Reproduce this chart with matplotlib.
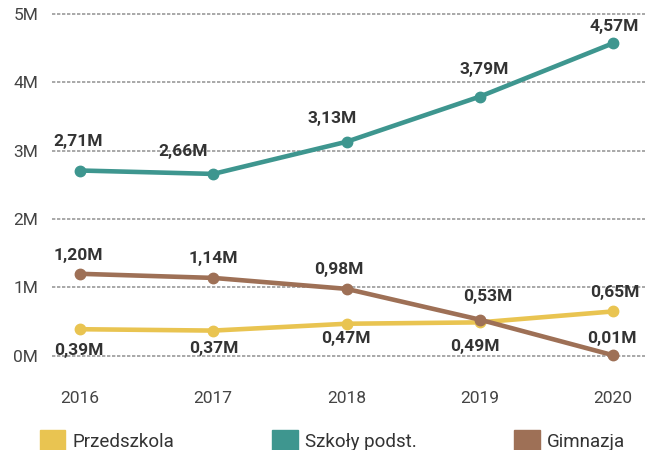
import matplotlib.pyplot as plt
import matplotlib.patches as mpatches

plt.rcParams['font.family'] = ['Roboto', 'DejaVu Sans']

years = [2016, 2017, 2018, 2019, 2020]
przedszkola = [0.39, 0.37, 0.47, 0.49, 0.65]
szkoly = [2.71, 2.66, 3.13, 3.79, 4.57]
gimnazja = [1.20, 1.14, 0.98, 0.53, 0.01]
y_ticks = [0, 1, 2, 3, 4, 5]

# label offsets in pixels (dx, dy), dy positive = down on screen
off_przed = [(-1, 21), (1, 18), (-1, 15), (-5, 24), (2, -19)]
off_szkoly = [(-2, -29), (-30, -22), (-14, -23), (4, -27), (1, -17)]
off_gimn = [(-2, -18), (0, -19), (-8, -19), (8, -23), (-1, -17)]

c_yellow = '#E9C451'
c_teal = '#3E968F'
c_brown = '#9E7056'

fig = plt.figure(figsize=(6.45, 4.5), dpi=100)
ax = fig.add_axes([52 / 645, 77 / 450, 593 / 645, 366 / 450])

series = [(przedszkola, c_yellow, off_przed),
          (gimnazja, c_brown, off_gimn),
          (szkoly, c_teal, off_szkoly)]
for vals, col, offs in series:
    ax.plot(years, vals, color=col, lw=3.3, marker='o', ms=7.5, zorder=3)
    for x, v, (dx, dy) in zip(years, vals, offs):
        ax.annotate(('%.2f' % v).replace('.', ',') + 'M', (x, v),
                    xytext=(dx, -dy), textcoords='offset pixels',
                    ha='center', va='center', fontsize=12.5,
                    fontweight='bold', color='#333333', zorder=4)

ax.set_xlim(2015.79, 2020.24)
ax.set_ylim(-0.25, 5.1)
ax.set_xticks(years)
ax.set_xticklabels([str(y) for y in years])
ax.set_yticks(y_ticks)
ax.set_yticklabels(['%dM' % t for t in y_ticks])
ax.tick_params(length=0, labelsize=12.5, labelcolor='#444444')
ax.tick_params(axis='x', pad=13)
ax.tick_params(axis='y', pad=10)
ax.grid(axis='y', color='#9a9a9a', lw=1.2, ls=(0, (2, 1)))
ax.set_axisbelow(True)
for s in ax.spines.values():
    s.set_visible(False)

handles = [mpatches.Patch(color=c_yellow, label='Przedszkola'),
           mpatches.Patch(color=c_teal, label='Szkoły podst.'),
           mpatches.Patch(color=c_brown, label='Gimnazja')]
fig.legend(handles=handles, loc='center left', bbox_to_anchor=(40 / 645, 9 / 450),
           ncol=3, frameon=False, fontsize=13.5, handlelength=1.35,
           handleheight=1.35, handletextpad=0.4, columnspacing=5.2,
           borderpad=0, borderaxespad=0, labelcolor='#333333')

fig.savefig('out.png', dpi=100)
